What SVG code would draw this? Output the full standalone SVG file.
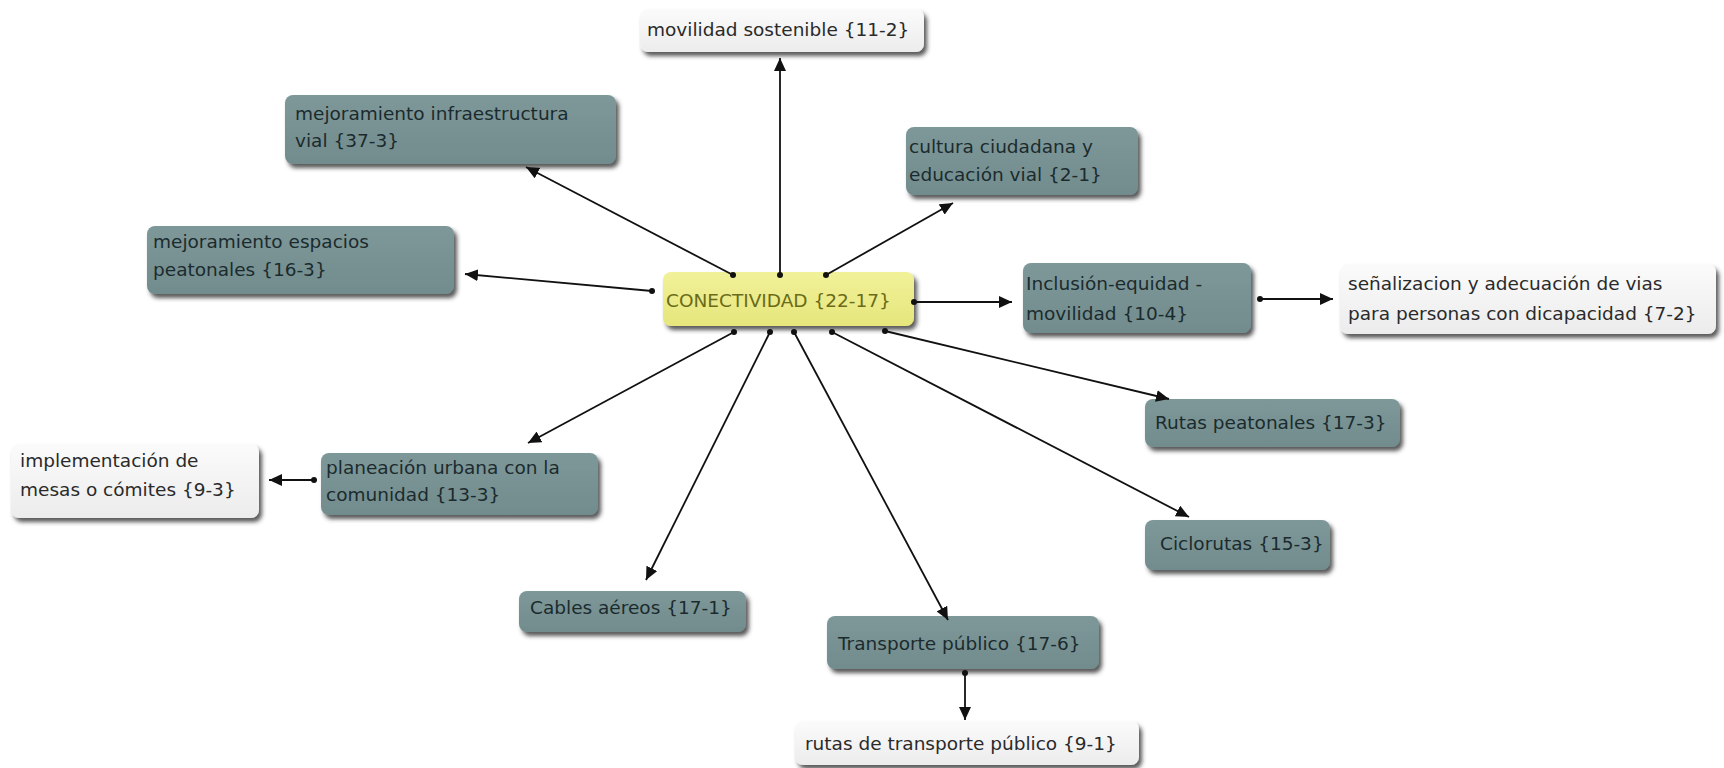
<svg xmlns="http://www.w3.org/2000/svg" width="1724" height="768" viewBox="0 0 1724 768">
<defs>
<linearGradient id="gDark" x1="0" y1="0" x2="0" y2="1"><stop offset="0" stop-color="#7e989a"/><stop offset="1" stop-color="#728c8e"/></linearGradient>
<linearGradient id="gLight" x1="0" y1="0" x2="0" y2="1"><stop offset="0" stop-color="#fbfbfb"/><stop offset="1" stop-color="#ececec"/></linearGradient>
<linearGradient id="gYellow" x1="0" y1="0" x2="0" y2="1"><stop offset="0" stop-color="#f1f19a"/><stop offset="1" stop-color="#e6e67c"/></linearGradient>
<filter id="sh" x="-10%" y="-20%" width="130%" height="160%"><feDropShadow dx="3" dy="4" stdDeviation="2" flood-color="#2e2e2e" flood-opacity="0.8"/></filter>
<marker id="arr" markerUnits="userSpaceOnUse" markerWidth="14" markerHeight="12" refX="13" refY="6" orient="auto"><path d="M0,0 L13,6 L0,12 Z" fill="#111"/></marker>
<marker id="dot" markerUnits="userSpaceOnUse" markerWidth="8" markerHeight="8" refX="4" refY="4"><circle cx="4" cy="4" r="3" fill="#111"/></marker>
<style>
.dark{fill:url(#gDark);filter:url(#sh)}
.light{fill:url(#gLight);filter:url(#sh)}
.yel{fill:url(#gYellow);filter:url(#sh)}
text{font-family:"DejaVu Sans","Liberation Sans",sans-serif;font-size:18.5px}
.td{fill:#1b2b2d}
.tl{fill:#2a2a2a}
.ty{fill:#6a6b18}
.c{stroke:#111;stroke-width:1.8;fill:none;marker-start:url(#dot);marker-end:url(#arr)}
</style>
</defs>
<g id="n-movilidad"><rect class="light" x="640" y="9" width="284" height="43" rx="8"/><text class="tl" x="647" y="36">movilidad sostenible {11-2}</text></g>
<g id="n-infraestructura"><rect class="dark" x="285" y="95" width="331" height="69" rx="8"/><text class="td" x="295" y="120">mejoramiento infraestructura</text><text class="td" x="295" y="147">vial {37-3}</text></g>
<g id="n-cultura"><rect class="dark" x="906" y="127" width="232" height="68" rx="8"/><text class="td" x="909" y="153">cultura ciudadana y</text><text class="td" x="909" y="181">educación vial {2-1}</text></g>
<g id="n-espacios"><rect class="dark" x="147" y="226" width="307" height="68" rx="8"/><text class="td" x="153" y="248">mejoramiento espacios</text><text class="td" x="153" y="276">peatonales {16-3}</text></g>
<g id="n-conectividad"><rect class="yel" x="663" y="272" width="251" height="54" rx="8"/><text class="ty" x="666" y="307">CONECTIVIDAD {22-17}</text></g>
<g id="n-inclusion"><rect class="dark" x="1023" y="263" width="228" height="70" rx="8"/><text class="td" x="1026" y="290">Inclusión-equidad -</text><text class="td" x="1026" y="320">movilidad {10-4}</text></g>
<g id="n-senalizacion"><rect class="light" x="1340" y="264" width="376" height="70" rx="8"/><text class="tl" x="1348" y="290">señalizacion y adecuación de vias</text><text class="tl" x="1348" y="320">para personas con dicapacidad {7-2}</text></g>
<g id="n-rutas-peatonales"><rect class="dark" x="1145" y="399" width="255" height="48" rx="8"/><text class="td" x="1155" y="429">Rutas peatonales {17-3}</text></g>
<g id="n-ciclorutas"><rect class="dark" x="1145" y="520" width="185" height="50" rx="8"/><text class="td" x="1160" y="550">Ciclorutas {15-3}</text></g>
<g id="n-transporte"><rect class="dark" x="827" y="616" width="272" height="53" rx="8"/><text class="td" x="838" y="650">Transporte público {17-6}</text></g>
<g id="n-rutas-transporte"><rect class="light" x="795" y="721" width="344" height="44" rx="8"/><text class="tl" x="805" y="750">rutas de transporte público {9-1}</text></g>
<g id="n-cables"><rect class="dark" x="519" y="591" width="227" height="41" rx="8"/><text class="td" x="530" y="614">Cables aéreos {17-1}</text></g>
<g id="n-planeacion"><rect class="dark" x="321" y="453" width="277" height="62" rx="8"/><text class="td" x="326" y="474">planeación urbana con la</text><text class="td" x="326" y="501">comunidad {13-3}</text></g>
<g id="n-implementacion"><rect class="light" x="11" y="444" width="248" height="74" rx="8"/><text class="tl" x="20" y="467">implementación de</text><text class="tl" x="20" y="496">mesas o cómites {9-3}</text></g>
<g id="connectors">
<line class="c" x1="780" y1="275" x2="780" y2="58"/>
<line class="c" x1="733" y1="275" x2="526" y2="167"/>
<line class="c" x1="826" y1="275" x2="953" y2="203"/>
<line class="c" x1="652" y1="291" x2="465" y2="274"/>
<line class="c" x1="914" y1="302" x2="1012" y2="302"/>
<line class="c" x1="1260" y1="299" x2="1333" y2="299"/>
<line class="c" x1="885" y1="331" x2="1169" y2="399"/>
<line class="c" x1="832" y1="332" x2="1189" y2="517"/>
<line class="c" x1="794" y1="332" x2="948" y2="620"/>
<line class="c" x1="965" y1="673" x2="965" y2="720"/>
<line class="c" x1="770" y1="332" x2="646" y2="580"/>
<line class="c" x1="734" y1="332" x2="528" y2="443"/>
<line class="c" x1="314" y1="480" x2="269" y2="480"/>
</g>
</svg>
